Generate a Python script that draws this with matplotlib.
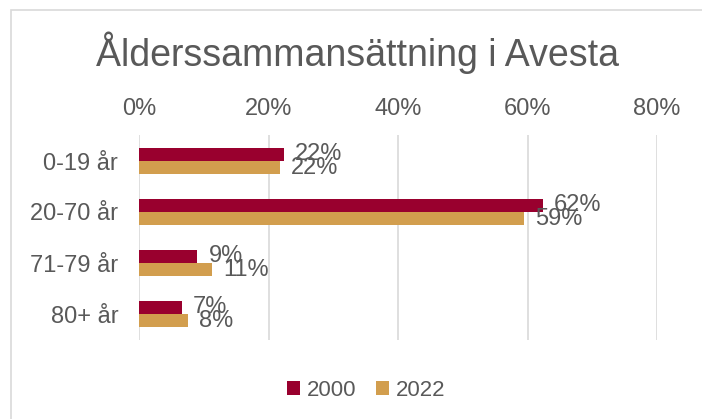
import matplotlib
matplotlib.use("Agg")
import matplotlib.pyplot as plt
import numpy as np
from matplotlib.patches import Rectangle

plt.rcParams['font.family'] = ['Liberation Sans', 'DejaVu Sans']

categories = ["0-19 år", "20-70 år", "71-79 år", "80+ år"]
series_names = ["2000", "2022"]
values_2000 = [0.224, 0.624, 0.090, 0.066]
values_2022 = [0.218, 0.594, 0.113, 0.076]
tick_values = [0, 0.2, 0.4, 0.6, 0.8]
tick_labels = ["0%", "20%", "40%", "60%", "80%"]
title = "Ålderssammansättning i Avesta"

c2000 = "#99002E"
c2022 = "#D29E4E"
txt = "#595959"

W, H = 702, 419
fig = plt.figure(figsize=(W/100, H/100), dpi=100)

# chart border (right and bottom edges lie outside the picture)
fig.patches.append(Rectangle((11/W, -0.2), 1.2, 1.2 - 10/H, transform=fig.transFigure,
                             fill=False, edgecolor="#D9D9D9", linewidth=1.2))

ax_left, ax_right = 139, 657
ax_top, ax_bot = 135.5, 339.5
ax = fig.add_axes([ax_left/W, 1 - ax_bot/H, (ax_right-ax_left)/W, (ax_bot-ax_top)/H])

y = np.arange(len(categories))
h = 0.255
b1 = ax.barh(y - h/2, values_2000, height=h, color=c2000, label=series_names[0], zorder=3)
b2 = ax.barh(y + h/2, values_2022, height=h, color=c2022, label=series_names[1], zorder=3)

ax.set_ylim(len(categories) - 0.5, -0.5)
ax.set_xlim(0, 0.8)
ax.set_yticks(y)
ax.set_yticklabels(categories, fontsize=17, color=txt)
ax.set_xticks(tick_values)
ax.set_xticklabels(tick_labels, fontsize=17, color=txt)
ax.xaxis.tick_top()
ax.tick_params(axis='both', length=0)
ax.tick_params(axis='x', pad=11)
ax.tick_params(axis='y', pad=15)
ax.grid(axis='x', color="#D9D9D9", linewidth=1.2, zorder=0)
for s in ax.spines.values():
    s.set_visible(False)

for bars, vals in ((b1, values_2000), (b2, values_2022)):
    for rect, v in zip(bars, vals):
        ax.annotate(f"{round(v*100):.0f}%", xy=(v, rect.get_y() + rect.get_height()/2),
                    xytext=(8, 0), textcoords="offset points", ha="left", va="center",
                    fontsize=17, color=txt, zorder=4)

fig.text(358/W, 1 - 53/H, title, ha="center", va="center", fontsize=27, color=txt)

leg = fig.legend(handles=[b1, b2], labels=series_names, loc="center", bbox_to_anchor=(366/W, 1 - 390/H),
                 ncol=2, frameon=False, fontsize=16, handlelength=0.6, handleheight=0.6,
                 handletextpad=0.3, columnspacing=0.9, labelcolor=txt)

fig.savefig("out.png", dpi=100)
